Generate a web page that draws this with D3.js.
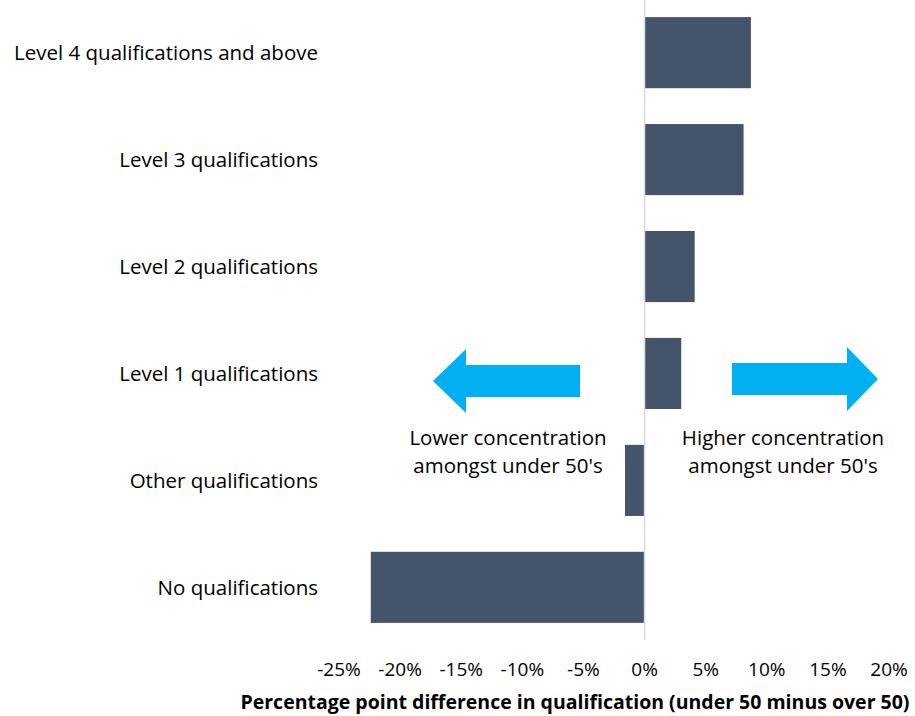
<!DOCTYPE html>
<html>
<head>
<meta charset="utf-8">
<script src="https://cdn.jsdelivr.net/npm/d3@7"></script>
<style>
  body { margin: 0; background: #fff; }
  svg { display: block; font-family: "Open Sans", Lato, sans-serif; }
</style>
</head>
<body>
<svg id="chart" width="915" height="716"></svg>
<script>
// qualification categories, top to bottom
const categories = [
  "Level 4 qualifications and above",
  "Level 3 qualifications",
  "Level 2 qualifications",
  "Level 1 qualifications",
  "Other qualifications",
  "No qualifications"
];
// percentage point difference (under 50 minus over 50)
const values = [8.7, 8.1, 4.1, 3.0, -1.6, -22.4];
const ticks = [-25, -20, -15, -10, -5, 0, 5, 10, 15, 20];

const svg = d3.select("#chart");

let x = d3.scaleLinear().domain([-25, 20]).range([339, 889]);
let y = d3.scaleBand().domain(categories).range([0, 640]).paddingInner(0.335).paddingOuter(0.16);

// bars
svg.append("g")
  .selectAll("rect")
  .data(values)
  .enter().append("rect")
  .attr("x", d => x(Math.min(0, d)))
  .attr("width", d => Math.abs(x(d) - x(0)))
  .attr("y", (d, i) => y(categories[i]))
  .attr("height", y.bandwidth())
  .attr("fill", "#44546A");

// zero line
svg.append("line")
  .attr("x1", x(0)).attr("x2", x(0))
  .attr("y1", 0).attr("y2", 640)
  .attr("stroke", "#d9d9d9").attr("stroke-width", 1.5);

// category labels
svg.append("g")
  .selectAll("text")
  .data(categories)
  .enter().append("text")
  .attr("x", 318)
  .attr("y", d => y(d) + y.bandwidth() / 2)
  .attr("dy", "0.35em")
  .attr("text-anchor", "end")
  .attr("font-size", 20.5)
  .attr("fill", "#000")
  .text(d => d);

// x tick labels
svg.append("g")
  .selectAll("text")
  .data(ticks)
  .enter().append("text")
  .attr("x", d => x(d))
  .attr("y", 676)
  .attr("text-anchor", "middle")
  .attr("font-size", 19)
  .text(d => d + "%");

// axis title
svg.append("text")
  .attr("x", 575).attr("y", 709)
  .attr("text-anchor", "middle")
  .attr("font-size", 19.5)
  .attr("font-weight", "bold")
  .text("Percentage point difference in qualification (under 50 minus over 50)");

// arrows
const arrowColor = "#00B0F0";
svg.append("path")
  .attr("d", "M433,381 L466,349 L466,365 L580,365 L580,397 L466,397 L466,413 Z")
  .attr("fill", arrowColor);
svg.append("path")
  .attr("d", "M878,379 L847,347 L847,363 L732,363 L732,395 L847,395 L847,411 Z")
  .attr("fill", arrowColor);

// annotation texts
const notes = [
  { cx: 508, lines: ["Lower concentration", "amongst under 50's"] },
  { cx: 783, lines: ["Higher concentration", "amongst under 50's"] }
];
notes.forEach(n => {
  n.lines.forEach((t, i) => {
    svg.append("text")
      .attr("x", n.cx).attr("y", 445 + i * 28)
      .attr("text-anchor", "middle")
      .attr("font-size", 20.5)
      .text(t);
  });
});
</script>
</body>
</html>
